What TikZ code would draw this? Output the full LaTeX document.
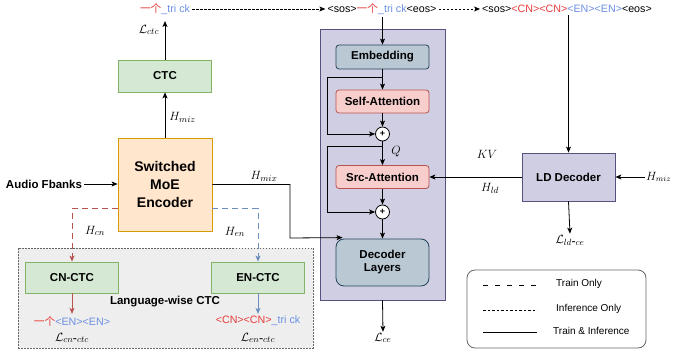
\documentclass[tikz,border=0pt]{standalone}
\usepackage{fontspec}
\setmainfont{Liberation Sans}
\newfontfamily\cjk{Noto Sans CJK SC}
\usetikzlibrary{arrows.meta,calc}
\definecolor{gfill}{HTML}{D5E8D4}\definecolor{gline}{HTML}{82B366}
\definecolor{ofill}{HTML}{FFE6CC}\definecolor{oline}{HTML}{D79B00}
\definecolor{pfill}{HTML}{D0CEE2}\definecolor{pline}{HTML}{56517E}
\definecolor{bfill}{HTML}{BAC8D3}\definecolor{bline}{HTML}{23445D}
\definecolor{rfill}{HTML}{F8CECC}\definecolor{rline}{HTML}{B85450}
\definecolor{eline}{HTML}{6C8EBF}
\definecolor{tokred}{HTML}{E83C3C}
\definecolor{tokblue}{HTML}{6A8FE3}
\definecolor{greybg}{HTML}{EEEEEE}
\definecolor{greyline}{HTML}{666666}
\newcommand{\yige}{{\cjk 一个}}
\begin{document}
\begin{tikzpicture}[x=1pt,y=-1pt,
  base/.style={line width=0.8pt},
  arr/.style={base,-{Stealth[length=6pt,width=5pt,inset=1.5pt]}},
  box/.style={draw,line width=0.8pt,minimum width=93pt,font=\fontsize{11.5}{13}\selectfont\bfseries,align=center},
  greenbox/.style={box,fill=gfill,draw=gline},
  redbox/.style={box,fill=rfill,draw=rline,rounded corners=3pt,minimum height=23pt},
  bluebox/.style={box,fill=bfill,draw=bline,rounded corners=3pt},
  tok/.style={font=\fontsize{10.7}{12}\selectfont,inner sep=2pt},
  lbl/.style={font=\fontsize{12.5}{14}\selectfont,inner sep=1pt},
  plus/.style={circle,draw,fill=white,line width=0.8pt,minimum size=14pt,inner sep=0pt,font=\fontsize{9}{9}\selectfont\bfseries},
  dots/.style={base,dash pattern=on 2.5pt off 1.5pt},
  legtext/.style={font=\fontsize{10}{12}\selectfont,anchor=west,inner sep=0pt}
]
\useasboundingbox (0,0) rectangle (673,358);

% grey language-wise box
\node[draw=greyline,fill=greybg,line width=0.8pt,dash pattern=on 1.5pt off 1.5pt,minimum width=295pt,minimum height=100pt,inner sep=0pt] (lwbox) at (165.5,298) {};
% purple decoder box
\node[draw=pline,fill=pfill,line width=0.8pt,minimum width=125pt,minimum height=271pt,inner sep=0pt] (decbox) at (382.5,164.5) {};

% top texts
\node[tok] (t1) at (165,9) {\color{tokred}\yige\color{tokblue}\_tri ck};
\node[tok] (t2) at (382,9) {<sos>\color{tokred}\yige\color{tokblue}\_tri ck\color{black}<eos>};
\node[tok] (t3) at (567,9) {<sos>\color{tokred}<CN><CN>\color{tokblue}<EN><EN>\color{black}<eos>};
\draw[dots,-{Stealth[length=6pt,width=5pt,inset=1.5pt]}] (t1.east) -- (t2.west);
\draw[dots,-{Stealth[length=6pt,width=5pt,inset=1.5pt]}] (t2.east) -- (t3.west);

% encoder side
\node[greenbox,minimum height=32pt] (ctc) at (165,76) {CTC};
\node[box,fill=ofill,draw=oline,minimum width=94pt,minimum height=93pt,font=\fontsize{14}{18}\selectfont\bfseries] (enc) at (165,184.5) {Switched\\MoE\\Encoder};
\node[font=\fontsize{11.5}{13}\selectfont\bfseries,inner sep=2pt] (audio) at (44,184) {Audio Fbanks};
\draw[arr] (audio.east) -- (enc.west |- audio.east);
\draw[arr] (enc.north) -- node[lbl,right=3pt,pos=0.45]{$H_{miz}$} (ctc.south);
\node[lbl] (lctc) at (149,30) {$\mathcal{L}_{ctc}$};
\coordinate (ctctop) at (165,21);
\draw[arr] (ctc.north) -- (ctctop);

% language-wise CTC
\node[greenbox,minimum height=31pt] (cnctc) at (72,277.5) {CN-CTC};
\node[greenbox,minimum height=31pt] (enctc) at (258,277.5) {EN-CTC};
\node[font=\fontsize{11.5}{13}\selectfont\bfseries] (lwlabel) at (165,302) {Language-wise CTC};
\coordinate (redstart) at ($(enc.south west)+(0,-23)$);
\coordinate (bluestart) at ($(enc.south east)+(0,-23)$);
\draw[base,draw=rline,dash pattern=on 6pt off 4pt,-{Stealth[length=6pt,width=5pt,inset=1.5pt]}] (redstart) -| (cnctc.north);
\draw[base,draw=eline,dash pattern=on 6pt off 4pt,-{Stealth[length=6pt,width=5pt,inset=1.5pt]}] (bluestart) -| (enctc.north);
\node[lbl] at (95,231) {$H_{cn}$};
\node[lbl] at (235,232) {$H_{en}$};
\node[tok] (cntok) at (72,321) {\color{tokred}\yige\color{tokblue}<EN><EN>};
\node[tok] (entok) at (258,321) {\color{tokred}<CN><CN>\color{tokblue}\_tri ck};
\draw[base,draw=rline,-{Stealth[length=6pt,width=5pt,inset=1.5pt]}] (cnctc.south) -- (cntok.north);
\draw[base,draw=eline,-{Stealth[length=6pt,width=5pt,inset=1.5pt]}] (enctc.south) -- (entok.north);
\node[lbl] at (72,338) {$\mathcal{L}_{cn\mbox{-}ctc}$};
\node[lbl] at (258,338) {$\mathcal{L}_{en\mbox{-}ctc}$};

% decoder
\node[bluebox,minimum height=24pt] (emb) at (382.5,57) {Embedding};
\node[redbox] (sa) at (382.5,101.5) {Self-Attention};
\node[plus] (p1) at (382.5,134) {+};
\node[redbox] (src) at (382.5,177) {Src-Attention};
\node[plus] (p2) at (382.5,212) {+};
\node[bluebox,minimum height=47pt,rounded corners=8pt] (dl) at (382.5,262.5) {Decoder\\Layers};
\coordinate (lx) at (327,0);
\coordinate (r1) at (382.5,77);
\coordinate (r2) at (382.5,146);
\draw[arr] (t2.south -| emb.north) -- (emb.north);
\draw[arr] (emb.south) -- (sa.north);
\draw[base] (r1) -- (r1 -| lx);
\draw[arr] (r1 -| lx) |- (p1.west);
\draw[arr] (sa.south) -- (p1.north);
\draw[arr] (p1.south) -- (src.north);
\node[lbl] at (396,152) {$Q$};
\draw[base] (r2) -- (r2 -| lx);
\draw[arr] (r2 -| lx) |- (p2.west);
\draw[arr] (src.south) -- (p2.north);
\draw[arr] (p2.south) -- (dl.north);
\coordinate (hmixturn) at (290,238);
\draw[arr] (enc.east) -| (hmixturn) -- ($(dl.north west)+(7,-1)$);
\node[lbl] at (264,176) {$H_{mix}$};
\node[lbl] (lce) at (383,338) {$\mathcal{L}_{ce}$};
\draw[arr] (decbox.south) -- (lce.north);

% LD decoder
\node[box,fill=pfill,draw=pline,minimum height=48pt] (ld) at (568.5,177) {LD Decoder};
\draw[arr] (t3.south -| ld.north) -- (ld.north);
\draw[arr] (ld.west) -- (src.east);
\node[lbl] at (487,154) {$KV$};
\node[lbl] at (490,188) {$H_{ld}$};
\node[lbl,anchor=west,font=\fontsize{11.5}{13}\selectfont] (hmizr) at (645,177) {$H_{miz}$};
\draw[arr] (hmizr.west) -- (ld.east);
\node[lbl] (lldce) at (570,240) {$\mathcal{L}_{ld\mbox{-}ce}$};
\draw[arr] (ld.south) -- (lldce.north);

% legend
\node[draw=greyline,line width=0.8pt,rounded corners=8pt,minimum width=179pt,minimum height=78pt,inner sep=0pt] (legend) at (556.5,309) {};
\coordinate (la1) at (483,285); \coordinate (lb1) at (537,285);
\coordinate (la2) at (483,310); \coordinate (lb2) at (537,310);
\coordinate (la3) at (483,332); \coordinate (lb3) at (537,332);
\draw[base,dash pattern=on 5pt off 7pt] (la1) -- (lb1);
\draw[base,dash pattern=on 2.5pt off 2pt] (la2) -- (lb2);
\draw[base] (la3) -- (lb3);
\node[legtext] at (556,284) {Train Only};
\node[legtext] at (556,309) {Inference Only};
\node[legtext] at (553,331) {Train \& Inference};
\end{tikzpicture}
\end{document}
